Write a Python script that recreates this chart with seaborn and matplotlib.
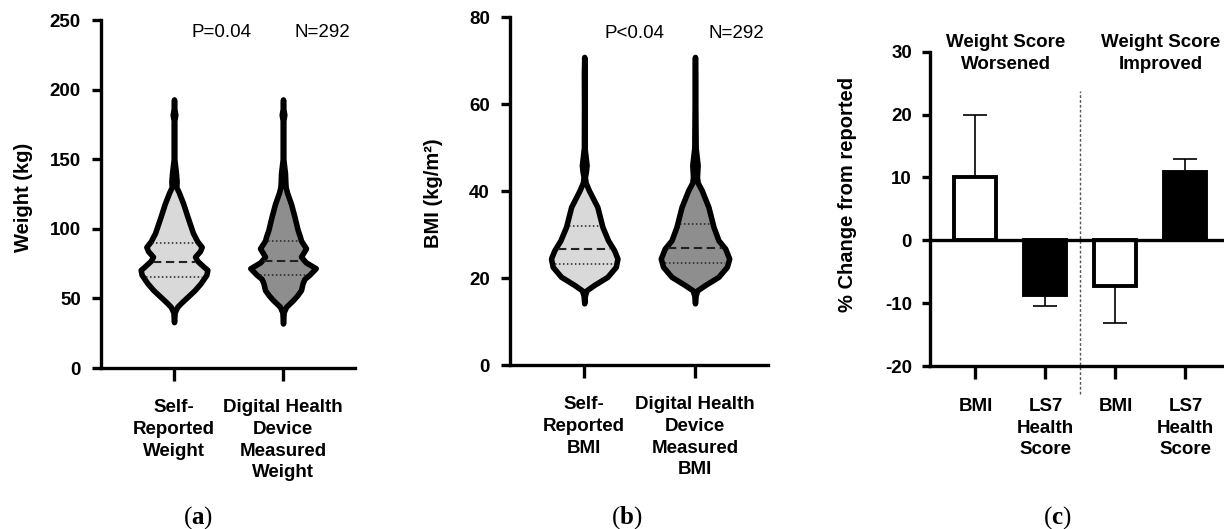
import numpy as np
import pandas as pd
import seaborn as sns
import matplotlib
matplotlib.use("Agg")
from matplotlib import pyplot as plt

# (a) weight violins: outline (kg, half width in category units)
weight_levels_self = [33, 40, 44, 47, 51, 56, 61, 67, 70.5, 73, 77, 80, 84, 87, 91, 97,
                      109, 118, 126, 130, 134, 140, 150, 178, 182, 186, 193]
weight_width_self = [0, 0.006, 0.030, 0.067, 0.122, 0.190, 0.245, 0.297, 0.306, 0.269, 0.214,
                     0.193, 0.238, 0.254, 0.214, 0.174, 0.122, 0.085, 0.045, 0.021, 0.024,
                     0.018, 0.003, 0.003, 0.012, 0.003, 0]
weight_levels_device = [32, 40, 44, 48.6, 52, 56, 61, 64, 67, 71.7, 76, 80, 86, 91.6, 95, 99,
                        109, 118, 126, 130, 134, 140, 150, 178, 182, 186, 193]
weight_width_device = [0, 0.006, 0.028, 0.089, 0.128, 0.165, 0.180, 0.196, 0.242, 0.300, 0.208,
                       0.165, 0.211, 0.165, 0.153, 0.135, 0.104, 0.073, 0.037, 0.024, 0.021,
                       0.018, 0.003, 0.003, 0.012, 0.003, 0]
weight_quartiles_self = [65.7, 76.5, 90.0]
weight_quartiles_device = [66.9, 76.7, 91.6]

# (b) BMI violins
bmi_levels_self = [14.2, 16, 17.2, 18.4, 20.3, 22.6, 24.5, 26.4, 28.7, 31.8, 36.4, 40.2,
                   42, 43.3, 44.5, 46, 50, 60, 67, 70.9]
bmi_width_self = [0, 0.006, 0.021, 0.088, 0.209, 0.285, 0.300, 0.270, 0.215, 0.164, 0.118,
                  0.042, 0.012, 0.006, 0.015, 0.021, 0.003, 0.002, 0.003, 0]
bmi_levels_device = [14.2, 16, 17.2, 18.4, 20.3, 22.6, 24.5, 26.8, 28.7, 31.8, 36.4, 40.2,
                     42, 43.3, 46, 50, 60, 67, 70.9]
bmi_width_device = [0, 0.006, 0.021, 0.091, 0.212, 0.288, 0.309, 0.273, 0.212, 0.167, 0.121,
                    0.061, 0.024, 0.018, 0.024, 0.006, 0.003, 0.003, 0]
bmi_quartiles_self = [23.2, 26.8, 32.0]
bmi_quartiles_device = [23.4, 27.0, 32.4]

weight_labels = ["Self-\nReported\nWeight", "Digital Health\nDevice\nMeasured\nWeight"]
bmi_labels = ["Self-\nReported\nBMI", "Digital Health\nDevice\nMeasured\nBMI"]

# (c) % change from reported
change_slots = ["worse_bmi", "worse_ls7", "better_bmi", "better_ls7"]
change_labels = ["BMI", "LS7\nHealth\nScore", "BMI", "LS7\nHealth\nScore"]
change_means = [10.0, -8.7, -7.2, 10.9]
change_err = [10.0, 1.8, 5.9, 2.0]
change_colors = ["white", "black", "white", "black"]

sns.set_theme(style="ticks")
plt.rcParams["font.family"] = ["Liberation Sans", "DejaVu Sans"]
plt.rcParams["font.weight"] = "bold"
plt.rcParams["axes.unicode_minus"] = False
plt.rcParams["mathtext.fontset"] = "custom"
plt.rcParams["mathtext.bf"] = "Liberation Serif:bold"
plt.rcParams["axes.linewidth"] = 2.4
for key in ["text.color", "axes.labelcolor", "axes.edgecolor", "xtick.color", "ytick.color"]:
    plt.rcParams[key] = "black"

FS = 13.5
LSP = 1.36
fig = plt.figure(figsize=(12.24, 5.29), dpi=100)
ax_a = fig.add_axes([0.0825, 0.3043, 0.2075, 0.6577])
ax_b = fig.add_axes([0.4167, 0.31, 0.2108, 0.657])
ax_c = fig.add_axes([0.7598, 0.3081, 0.2402, 0.5942])


def draw_violin(ax, pos, levels, widths, quarts, color):
    y = np.array(levels)
    w = np.array(widths)
    ax.fill_betweenx(y, pos - w, pos + w, facecolor=color, edgecolor="black",
                     linewidth=4, joinstyle="round", capstyle="round", zorder=2)
    styles = [(0, (1, 1.6)), (0, (4, 2.2)), (0, (1, 1.6))]
    lws = [1.1, 1.5, 1.1]
    for q, ls, lw in zip(quarts, styles, lws):
        half = np.interp(q, y, w) - 0.025
        ax.plot([pos - half, pos + half], [q, q], color="#222222", lw=lw, ls=ls, zorder=3)


def style_axes(ax, ticks, labels, ylim, ylabel, label_x, label_y):
    sns.despine(ax=ax)
    ax.set_xlim(-0.67, 1.66)
    ax.set_ylim(*ylim)
    ax.set_yticks(ticks)
    ax.set_xticks([0, 1])
    ax.set_xticklabels(labels, fontsize=FS, fontweight="bold", linespacing=LSP)
    ax.tick_params(axis="x", length=9.5, width=2.4, pad=13)
    ax.tick_params(axis="y", length=6.5, width=2.4, pad=8, labelsize=FS)
    ax.set_ylabel(ylabel, fontsize=14.5, fontweight="bold")
    ax.yaxis.set_label_coords(label_x, label_y)
    for lab in ax.get_yticklabels():
        lab.set_fontweight("bold")


# (a)
draw_violin(ax_a, 0, weight_levels_self, weight_width_self, weight_quartiles_self, "#d9d9d9")
draw_violin(ax_a, 1, weight_levels_device, weight_width_device, weight_quartiles_device, "#8e8e8e")
style_axes(ax_a, range(0, 251, 50), weight_labels, (0, 250), "Weight (kg)", -0.268, 0.49)
ax_a.text(0.44, 241, "P=0.04", ha="center", va="center", fontsize=FS, fontweight="normal")
ax_a.text(1.36, 241, "N=292", ha="center", va="center", fontsize=FS, fontweight="normal")

# (b)
draw_violin(ax_b, 0, bmi_levels_self, bmi_width_self, bmi_quartiles_self, "#d9d9d9")
draw_violin(ax_b, 1, bmi_levels_device, bmi_width_device, bmi_quartiles_device, "#8e8e8e")
style_axes(ax_b, range(0, 81, 20), bmi_labels, (0, 80), "BMI (kg/m²)", -0.26, 0.494)
ax_b.text(0.45, 76.3, "P<0.04", ha="center", va="center", fontsize=FS, fontweight="normal")
ax_b.text(1.37, 76.3, "N=292", ha="center", va="center", fontsize=FS, fontweight="normal")

# (c)
df = pd.DataFrame({"slot": change_slots, "change": change_means})
sns.barplot(data=df, x="slot", y="change", hue="slot", palette=change_colors,
            saturation=1, width=0.6, edgecolor="black", linewidth=2.8,
            legend=False, ax=ax_c, zorder=2)
lower = [e if m < 0 else 0 for m, e in zip(change_means, change_err)]
upper = [e if m > 0 else 0 for m, e in zip(change_means, change_err)]
ax_c.errorbar(range(4), change_means, yerr=[lower, upper], fmt="none", ecolor="black",
              elinewidth=1.2, capsize=8.5, capthick=1.2, zorder=1)
ax_c.axhline(0, color="black", lw=2.4, zorder=3)
sns.despine(ax=ax_c)
ax_c.set_xlim(-0.65, 3.55)
ax_c.set_ylim(-20, 30)
ax_c.set_yticks(range(-20, 31, 10))
ax_c.set_xticks(range(4))
ax_c.set_xticklabels(change_labels, fontsize=FS, fontweight="bold", linespacing=LSP)
ax_c.tick_params(axis="x", length=9, width=2.4, pad=14)
ax_c.tick_params(axis="y", length=6, width=2.4, pad=7, labelsize=FS)
for lab in ax_c.get_yticklabels():
    lab.set_fontweight("bold")
ax_c.set_xlabel("")
ax_c.set_ylabel("% Change from reported", fontsize=14.5, fontweight="bold")
ax_c.yaxis.set_label_coords(-0.248, 0.545)
ax_c.plot([1.5, 1.5], [-24.4, 23.7], color="#555555", lw=1, ls=(0, (2, 1.5)), clip_on=False)
ax_c.text(0.43, 29.7, "Weight Score\nWorsened", ha="center", va="center", fontsize=FS,
          fontweight="bold", linespacing=LSP, clip_on=False)
ax_c.text(2.65, 29.7, "Weight Score\nImproved", ha="center", va="center", fontsize=FS,
          fontweight="bold", linespacing=LSP, clip_on=False)

for x, letter in [(0.162, "a"), (0.512, "b"), (0.8636, "c")]:
    fig.text(x, 0.021, r"($\mathbf{%s}$)" % letter, ha="center", va="center", fontsize=18,
             fontweight="normal", family="Liberation Serif")

fig.savefig("out.png", dpi=100)
